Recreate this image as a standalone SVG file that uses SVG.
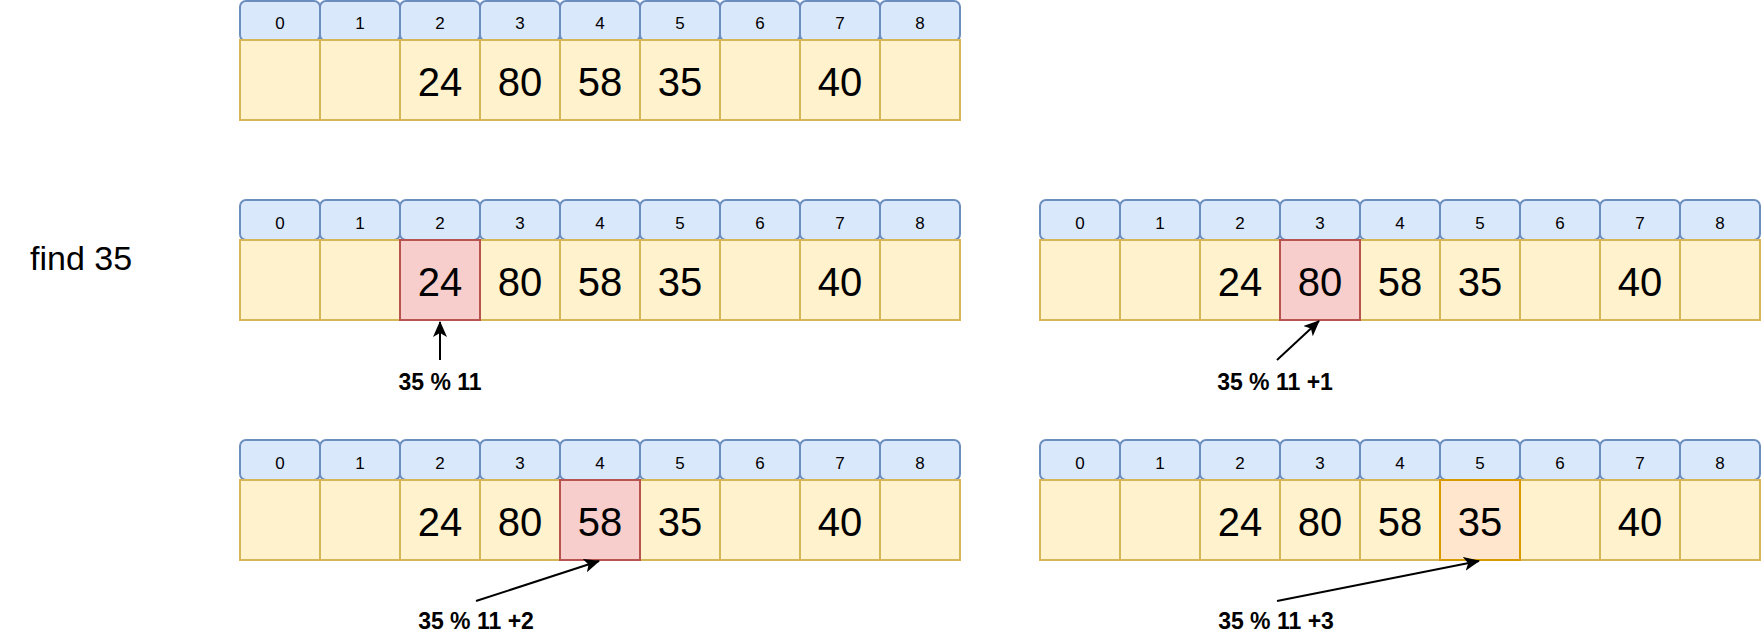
<svg xmlns="http://www.w3.org/2000/svg" width="1762" height="644" viewBox="0 0 1762 644">
<style>
.h{fill:#dae8fc;stroke:#6c8ebf;stroke-width:2}
.v{fill:#fff2cc;stroke:#d6b656;stroke-width:2}
.r{fill:#f8cecc;stroke:#b85450;stroke-width:2}
.o{fill:#ffe6cc;stroke:#d79b00;stroke-width:2}
text{font-family:"Liberation Sans",Arial,Helvetica,sans-serif;fill:#000;text-anchor:middle}
.ht{font-size:17px}
.vt{font-size:40px}
.lb{font-size:23px;font-weight:bold}
.fd{font-size:34px;text-anchor:start}
.cn{fill:none;stroke:#000;stroke-width:2}
</style>
<defs>
<marker id="arr" viewBox="0 0 16 14" refX="15" refY="7" markerWidth="16" markerHeight="14" markerUnits="userSpaceOnUse" orient="auto"><path d="M0,0 L16,7 L0,14 L4,7 Z" fill="#000"/></marker>
</defs>
<rect width="1762" height="644" fill="#fff"/>

<!-- Array A (top) -->
<g id="arrA">
<g id="A-h0"><rect class="h" x="240" y="1" width="80" height="40" rx="6"/><text class="ht" x="280" y="29">0</text></g>
<g id="A-h1"><rect class="h" x="320" y="1" width="80" height="40" rx="6"/><text class="ht" x="360" y="29">1</text></g>
<g id="A-h2"><rect class="h" x="400" y="1" width="80" height="40" rx="6"/><text class="ht" x="440" y="29">2</text></g>
<g id="A-h3"><rect class="h" x="480" y="1" width="80" height="40" rx="6"/><text class="ht" x="520" y="29">3</text></g>
<g id="A-h4"><rect class="h" x="560" y="1" width="80" height="40" rx="6"/><text class="ht" x="600" y="29">4</text></g>
<g id="A-h5"><rect class="h" x="640" y="1" width="80" height="40" rx="6"/><text class="ht" x="680" y="29">5</text></g>
<g id="A-h6"><rect class="h" x="720" y="1" width="80" height="40" rx="6"/><text class="ht" x="760" y="29">6</text></g>
<g id="A-h7"><rect class="h" x="800" y="1" width="80" height="40" rx="6"/><text class="ht" x="840" y="29">7</text></g>
<g id="A-h8"><rect class="h" x="880" y="1" width="80" height="40" rx="6"/><text class="ht" x="920" y="29">8</text></g>
<g id="A-v0"><rect class="v" x="240" y="40" width="80" height="80"/></g>
<g id="A-v1"><rect class="v" x="320" y="40" width="80" height="80"/></g>
<g id="A-v2"><rect class="v" x="400" y="40" width="80" height="80"/><text class="vt" x="440" y="96">24</text></g>
<g id="A-v3"><rect class="v" x="480" y="40" width="80" height="80"/><text class="vt" x="520" y="96">80</text></g>
<g id="A-v4"><rect class="v" x="560" y="40" width="80" height="80"/><text class="vt" x="600" y="96">58</text></g>
<g id="A-v5"><rect class="v" x="640" y="40" width="80" height="80"/><text class="vt" x="680" y="96">35</text></g>
<g id="A-v6"><rect class="v" x="720" y="40" width="80" height="80"/></g>
<g id="A-v7"><rect class="v" x="800" y="40" width="80" height="80"/><text class="vt" x="840" y="96">40</text></g>
<g id="A-v8"><rect class="v" x="880" y="40" width="80" height="80"/></g>
</g>

<g id="find"><text class="fd" x="30" y="270">find 35</text></g>

<!-- Array B -->
<g id="arrB">
<g id="B-h0"><rect class="h" x="240" y="200" width="80" height="40" rx="6"/><text class="ht" x="280" y="229">0</text></g>
<g id="B-h1"><rect class="h" x="320" y="200" width="80" height="40" rx="6"/><text class="ht" x="360" y="229">1</text></g>
<g id="B-h2"><rect class="h" x="400" y="200" width="80" height="40" rx="6"/><text class="ht" x="440" y="229">2</text></g>
<g id="B-h3"><rect class="h" x="480" y="200" width="80" height="40" rx="6"/><text class="ht" x="520" y="229">3</text></g>
<g id="B-h4"><rect class="h" x="560" y="200" width="80" height="40" rx="6"/><text class="ht" x="600" y="229">4</text></g>
<g id="B-h5"><rect class="h" x="640" y="200" width="80" height="40" rx="6"/><text class="ht" x="680" y="229">5</text></g>
<g id="B-h6"><rect class="h" x="720" y="200" width="80" height="40" rx="6"/><text class="ht" x="760" y="229">6</text></g>
<g id="B-h7"><rect class="h" x="800" y="200" width="80" height="40" rx="6"/><text class="ht" x="840" y="229">7</text></g>
<g id="B-h8"><rect class="h" x="880" y="200" width="80" height="40" rx="6"/><text class="ht" x="920" y="229">8</text></g>
<g id="B-v0"><rect class="v" x="240" y="240" width="80" height="80"/></g>
<g id="B-v1"><rect class="v" x="320" y="240" width="80" height="80"/></g>
<g id="B-v3"><rect class="v" x="480" y="240" width="80" height="80"/><text class="vt" x="520" y="296">80</text></g>
<g id="B-v4"><rect class="v" x="560" y="240" width="80" height="80"/><text class="vt" x="600" y="296">58</text></g>
<g id="B-v5"><rect class="v" x="640" y="240" width="80" height="80"/><text class="vt" x="680" y="296">35</text></g>
<g id="B-v6"><rect class="v" x="720" y="240" width="80" height="80"/></g>
<g id="B-v7"><rect class="v" x="800" y="240" width="80" height="80"/><text class="vt" x="840" y="296">40</text></g>
<g id="B-v8"><rect class="v" x="880" y="240" width="80" height="80"/></g>
<g id="B-v2"><rect class="r" x="400" y="240" width="80" height="80"/><text class="vt" x="440" y="296">24</text></g>
</g>

<!-- Array C -->
<g id="arrC">
<g id="C-h0"><rect class="h" x="1040" y="200" width="80" height="40" rx="6"/><text class="ht" x="1080" y="229">0</text></g>
<g id="C-h1"><rect class="h" x="1120" y="200" width="80" height="40" rx="6"/><text class="ht" x="1160" y="229">1</text></g>
<g id="C-h2"><rect class="h" x="1200" y="200" width="80" height="40" rx="6"/><text class="ht" x="1240" y="229">2</text></g>
<g id="C-h3"><rect class="h" x="1280" y="200" width="80" height="40" rx="6"/><text class="ht" x="1320" y="229">3</text></g>
<g id="C-h4"><rect class="h" x="1360" y="200" width="80" height="40" rx="6"/><text class="ht" x="1400" y="229">4</text></g>
<g id="C-h5"><rect class="h" x="1440" y="200" width="80" height="40" rx="6"/><text class="ht" x="1480" y="229">5</text></g>
<g id="C-h6"><rect class="h" x="1520" y="200" width="80" height="40" rx="6"/><text class="ht" x="1560" y="229">6</text></g>
<g id="C-h7"><rect class="h" x="1600" y="200" width="80" height="40" rx="6"/><text class="ht" x="1640" y="229">7</text></g>
<g id="C-h8"><rect class="h" x="1680" y="200" width="80" height="40" rx="6"/><text class="ht" x="1720" y="229">8</text></g>
<g id="C-v0"><rect class="v" x="1040" y="240" width="80" height="80"/></g>
<g id="C-v1"><rect class="v" x="1120" y="240" width="80" height="80"/></g>
<g id="C-v2"><rect class="v" x="1200" y="240" width="80" height="80"/><text class="vt" x="1240" y="296">24</text></g>
<g id="C-v4"><rect class="v" x="1360" y="240" width="80" height="80"/><text class="vt" x="1400" y="296">58</text></g>
<g id="C-v5"><rect class="v" x="1440" y="240" width="80" height="80"/><text class="vt" x="1480" y="296">35</text></g>
<g id="C-v6"><rect class="v" x="1520" y="240" width="80" height="80"/></g>
<g id="C-v7"><rect class="v" x="1600" y="240" width="80" height="80"/><text class="vt" x="1640" y="296">40</text></g>
<g id="C-v8"><rect class="v" x="1680" y="240" width="80" height="80"/></g>
<g id="C-v3"><rect class="r" x="1280" y="240" width="80" height="80"/><text class="vt" x="1320" y="296">80</text></g>
</g>

<!-- Array D -->
<g id="arrD">
<g id="D-h0"><rect class="h" x="240" y="440" width="80" height="40" rx="6"/><text class="ht" x="280" y="469">0</text></g>
<g id="D-h1"><rect class="h" x="320" y="440" width="80" height="40" rx="6"/><text class="ht" x="360" y="469">1</text></g>
<g id="D-h2"><rect class="h" x="400" y="440" width="80" height="40" rx="6"/><text class="ht" x="440" y="469">2</text></g>
<g id="D-h3"><rect class="h" x="480" y="440" width="80" height="40" rx="6"/><text class="ht" x="520" y="469">3</text></g>
<g id="D-h4"><rect class="h" x="560" y="440" width="80" height="40" rx="6"/><text class="ht" x="600" y="469">4</text></g>
<g id="D-h5"><rect class="h" x="640" y="440" width="80" height="40" rx="6"/><text class="ht" x="680" y="469">5</text></g>
<g id="D-h6"><rect class="h" x="720" y="440" width="80" height="40" rx="6"/><text class="ht" x="760" y="469">6</text></g>
<g id="D-h7"><rect class="h" x="800" y="440" width="80" height="40" rx="6"/><text class="ht" x="840" y="469">7</text></g>
<g id="D-h8"><rect class="h" x="880" y="440" width="80" height="40" rx="6"/><text class="ht" x="920" y="469">8</text></g>
<g id="D-v0"><rect class="v" x="240" y="480" width="80" height="80"/></g>
<g id="D-v1"><rect class="v" x="320" y="480" width="80" height="80"/></g>
<g id="D-v2"><rect class="v" x="400" y="480" width="80" height="80"/><text class="vt" x="440" y="536">24</text></g>
<g id="D-v3"><rect class="v" x="480" y="480" width="80" height="80"/><text class="vt" x="520" y="536">80</text></g>
<g id="D-v5"><rect class="v" x="640" y="480" width="80" height="80"/><text class="vt" x="680" y="536">35</text></g>
<g id="D-v6"><rect class="v" x="720" y="480" width="80" height="80"/></g>
<g id="D-v7"><rect class="v" x="800" y="480" width="80" height="80"/><text class="vt" x="840" y="536">40</text></g>
<g id="D-v8"><rect class="v" x="880" y="480" width="80" height="80"/></g>
<g id="D-v4"><rect class="r" x="560" y="480" width="80" height="80"/><text class="vt" x="600" y="536">58</text></g>
</g>

<!-- Array E -->
<g id="arrE">
<g id="E-h0"><rect class="h" x="1040" y="440" width="80" height="40" rx="6"/><text class="ht" x="1080" y="469">0</text></g>
<g id="E-h1"><rect class="h" x="1120" y="440" width="80" height="40" rx="6"/><text class="ht" x="1160" y="469">1</text></g>
<g id="E-h2"><rect class="h" x="1200" y="440" width="80" height="40" rx="6"/><text class="ht" x="1240" y="469">2</text></g>
<g id="E-h3"><rect class="h" x="1280" y="440" width="80" height="40" rx="6"/><text class="ht" x="1320" y="469">3</text></g>
<g id="E-h4"><rect class="h" x="1360" y="440" width="80" height="40" rx="6"/><text class="ht" x="1400" y="469">4</text></g>
<g id="E-h5"><rect class="h" x="1440" y="440" width="80" height="40" rx="6"/><text class="ht" x="1480" y="469">5</text></g>
<g id="E-h6"><rect class="h" x="1520" y="440" width="80" height="40" rx="6"/><text class="ht" x="1560" y="469">6</text></g>
<g id="E-h7"><rect class="h" x="1600" y="440" width="80" height="40" rx="6"/><text class="ht" x="1640" y="469">7</text></g>
<g id="E-h8"><rect class="h" x="1680" y="440" width="80" height="40" rx="6"/><text class="ht" x="1720" y="469">8</text></g>
<g id="E-v0"><rect class="v" x="1040" y="480" width="80" height="80"/></g>
<g id="E-v1"><rect class="v" x="1120" y="480" width="80" height="80"/></g>
<g id="E-v2"><rect class="v" x="1200" y="480" width="80" height="80"/><text class="vt" x="1240" y="536">24</text></g>
<g id="E-v3"><rect class="v" x="1280" y="480" width="80" height="80"/><text class="vt" x="1320" y="536">80</text></g>
<g id="E-v4"><rect class="v" x="1360" y="480" width="80" height="80"/><text class="vt" x="1400" y="536">58</text></g>
<g id="E-v6"><rect class="v" x="1520" y="480" width="80" height="80"/></g>
<g id="E-v7"><rect class="v" x="1600" y="480" width="80" height="80"/><text class="vt" x="1640" y="536">40</text></g>
<g id="E-v8"><rect class="v" x="1680" y="480" width="80" height="80"/></g>
<g id="E-v5"><rect class="o" x="1440" y="480" width="80" height="80"/><text class="vt" x="1480" y="536">35</text></g>
</g>

<!-- Labels -->
<g id="lbl1"><text class="lb" x="440" y="390">35 % 11</text></g>
<g id="lbl2"><text class="lb" x="1275" y="390">35 % 11 +1</text></g>
<g id="lbl3"><text class="lb" x="476" y="629">35 % 11 +2</text></g>
<g id="lbl4"><text class="lb" x="1276" y="629">35 % 11 +3</text></g>

<!-- Connectors -->
<g id="connectors">
<path class="cn" d="M440,360 L440,322" marker-end="url(#arr)"/>
<path class="cn" d="M1277,360 L1319,321" marker-end="url(#arr)"/>
<path class="cn" d="M476,601 L599,561" marker-end="url(#arr)"/>
<path class="cn" d="M1277,601 L1479,561" marker-end="url(#arr)"/>
</g>
</svg>
